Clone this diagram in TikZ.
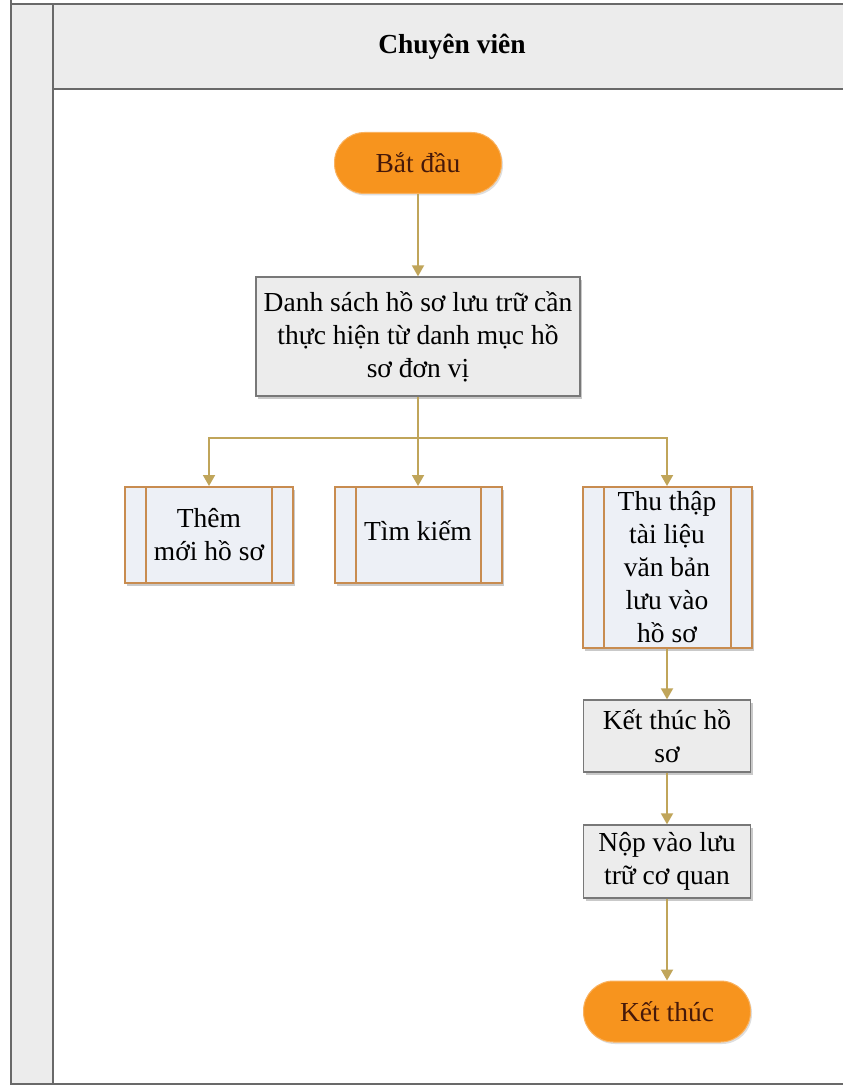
\documentclass[tikz,border=0pt]{standalone}
\usepackage{fontspec}
\setmainfont{Liberation Serif}
\usetikzlibrary{arrows.meta,shadows}

\definecolor{laneline}{RGB}{105,105,105}
\definecolor{lanefill}{RGB}{236,236,236}
\definecolor{pillfill}{RGB}{247,148,30}
\definecolor{pillline}{RGB}{250,178,95}
\definecolor{pilltext}{RGB}{70,25,10}
\definecolor{procfill}{RGB}{236,236,236}
\definecolor{procline}{RGB}{120,120,120}
\definecolor{subfill}{RGB}{237,240,246}
\definecolor{subline}{RGB}{200,140,80}
\definecolor{flowcol}{RGB}{192,165,90}

\begin{document}
\begin{tikzpicture}[x=1pt,y=-1pt,
  bodyfont/.style={font=\fontsize{27.5}{33}\selectfont},
  softshadow/.style={drop shadow={shadow xshift=2pt,shadow yshift=-2.5pt,fill=black!35,opacity=0.6}},
  pill/.style={bodyfont, draw=pillline, line width=1pt, fill=pillfill, text=pilltext,
    rounded corners=30pt, minimum width=167pt, minimum height=61pt, inner sep=0pt,
    drop shadow={shadow xshift=1.5pt,shadow yshift=-2pt,fill=black!25,opacity=0.5}},
  proc/.style={bodyfont, draw=procline, line width=1.3pt, fill=procfill, align=center,
    inner sep=0pt, softshadow},
  subproc/.style={bodyfont, draw=subline, line width=2pt, fill=subfill, align=center,
    inner sep=0pt, softshadow,
    path picture={
      \draw[subline, line width=2pt]
        ([xshift=21pt]path picture bounding box.north west) --
        ([xshift=21pt]path picture bounding box.south west)
        ([xshift=-21pt]path picture bounding box.north east) --
        ([xshift=-21pt]path picture bounding box.south east);
    }},
  flow/.style={draw=flowcol, line width=1.8pt,
    -{Triangle[length=11pt,width=12pt,fill=flowcol]}},
]
\useasboundingbox (0,0) rectangle (843,1086);

% swimlane background and frame
\fill[lanefill] (11,4) rectangle (53,1084);
\fill[lanefill] (53,4) rectangle (843,89);
\fill[white] (53,89) rectangle (843,1084);
\draw[laneline, line width=1.8pt] (11,0) -- (11,1084) -- (843,1084);
\draw[laneline, line width=1.8pt] (11,4) -- (843,4);
\draw[laneline, line width=1.8pt] (53,4) -- (53,1084);
\draw[laneline, line width=1.8pt] (53,89) -- (843,89);
\node (lanetitle) at (452,47) {\fontsize{27.5}{32}\selectfont\bfseries Chuyên viên};

% flow steps
\node[pill] (start) at (418,163) {Bắt đầu};
\node[proc, minimum width=324pt, minimum height=119pt] (list) at (418,336.5)
  {Danh sách hồ sơ lưu trữ cần\\thực hiện từ danh mục hồ\\sơ đơn vị};
\node[subproc, minimum width=168pt, minimum height=96pt] (add) at (209,535)
  {Thêm\\mới hồ sơ};
\node[subproc, minimum width=167pt, minimum height=96pt] (search) at (418,535)
  {\raisebox{8pt}{Tìm kiếm}};
\node[subproc, minimum width=169pt, minimum height=161pt] (collect) at (667,567.5)
  {Thu thập\\tài liệu\\văn bản\\lưu vào\\hồ sơ};
\node[proc, minimum width=167pt, minimum height=72pt] (close) at (667,736)
  {Kết thúc hồ\\sơ};
\node[proc, minimum width=167pt, minimum height=73pt] (submit) at (667,861.5)
  {Nộp vào lưu\\trữ cơ quan};
\node[pill] (finish) at (667,1011.5) {Kết thúc};

% connectors
\coordinate (split) at (list.south |- 0,438);
\draw[flow] (start) -- (list);
\draw[flow] (list.south) -- (split) -| (add.north);
\draw[flow] (split) -- (search.north);
\draw[flow] (split) -| (collect.north);
\draw[flow] (collect) -- (close);
\draw[flow] (close) -- (submit);
\draw[flow] (submit) -- (finish);
\end{tikzpicture}
\end{document}
